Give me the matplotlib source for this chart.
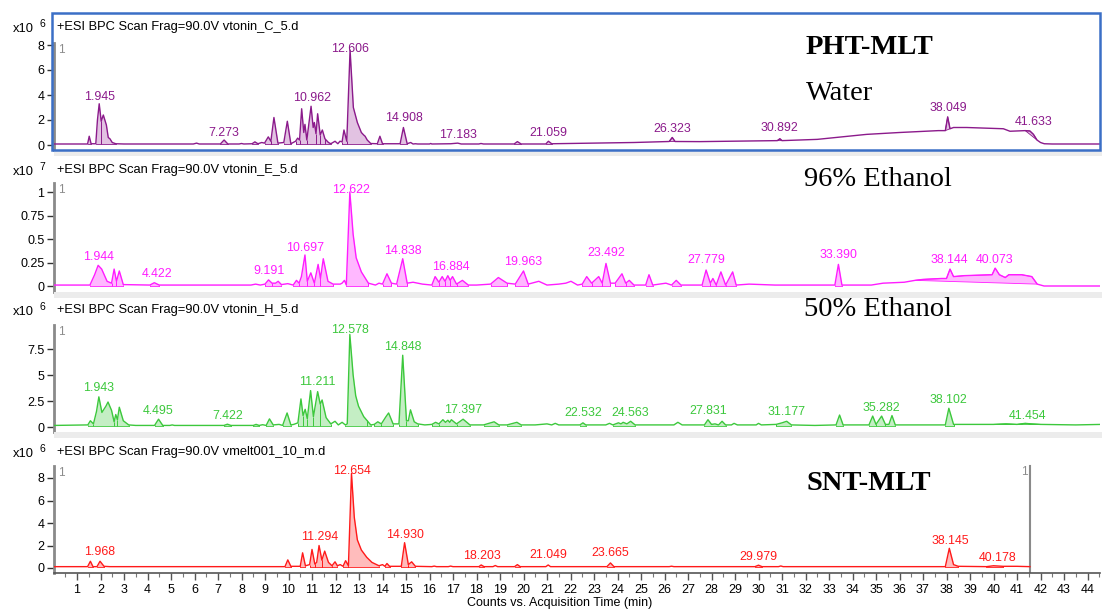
import numpy as np
import matplotlib
matplotlib.use("Agg")
import matplotlib.pyplot as plt
from matplotlib.patches import Rectangle

plt.rcParams['font.family'] = ['Liberation Sans', 'DejaVu Sans']

# === DATOS (tiempo en min, intensidad en unidades del eje) ===
water_pts = [(0.0, 0.08), (1.45, 0.08), (1.52, 0.7), (1.6, 0.1), (1.8, 0.1), (1.87, 2.0), (1.945, 3.3),
             (2.03, 1.9), (2.12, 2.4), (2.25, 1.6), (2.33, 0.6), (2.4, 0.5), (2.5, 0.2), (2.65, 0.1), (3.0, 0.08),
             (5.95, 0.08), (6.09, 0.15), (6.2, 0.08), (7.1, 0.08), (7.26, 0.4), (7.42, 0.08), (7.9, 0.08),
             (8.0, 0.12), (8.1, 0.08), (8.45, 0.1), (8.57, 0.25), (8.7, 0.1), (8.86, 0.2), (8.98, 0.15),
             (9.14, 0.65), (9.25, 0.3), (9.38, 2.2), (9.55, 0.15), (9.8, 0.2), (9.95, 1.9), (10.1, 0.1),
             (10.3, 0.3), (10.39, 0.55), (10.47, 0.4), (10.56, 2.9), (10.65, 1.0), (10.70, 1.65), (10.78, 0.4),
             (10.96, 3.1), (11.05, 1.4), (11.1, 1.8), (11.17, 0.9), (11.24, 2.5), (11.35, 0.8), (11.44, 1.2),
             (11.55, 0.5), (11.7, 0.2), (11.8, 0.1), (11.98, 0.3), (12.1, 0.1), (12.19, 0.3), (12.28, 0.25),
             (12.36, 1.2), (12.48, 0.3), (12.62, 7.6), (12.76, 3.0), (12.93, 1.8), (13.1, 1.0), (13.2, 0.8),
             (13.26, 0.7), (13.35, 0.4), (13.5, 0.12), (13.78, 0.1), (13.89, 0.7), (14.0, 0.1), (14.75, 0.1),
             (14.89, 1.4), (15.05, 0.1), (15.2, 0.2), (15.3, 0.08), (15.4, 0.1), (15.5, 0.08), (16.0, 0.08),
             (16.05, 0.12), (16.1, 0.08), (16.9, 0.1), (17.2, 0.15), (17.35, 0.08), (18.1, 0.08), (18.19, 0.12),
             (18.3, 0.08), (19.6, 0.08), (19.74, 0.27), (19.9, 0.08), (20.95, 0.08), (21.06, 0.3), (21.2, 0.1),
             (24.7, 0.2), (26.2, 0.28), (26.33, 0.6), (26.45, 0.28), (27.5, 0.27), (30.8, 0.35), (30.91, 0.5),
             (31.0, 0.35), (32.5, 0.45), (34.6, 0.85), (36.0, 1.0), (37.65, 1.15), (37.95, 1.15), (38.05, 2.25),
             (38.15, 1.3), (38.3, 1.4), (38.86, 1.4), (40.42, 1.3), (40.7, 1.1), (41.35, 1.15), (41.55, 1.12),
             (41.7, 0.85), (41.85, 0.4), (42.0, 0.2), (42.16, 0.1), (42.5, 0.08), (44.6, 0.08)]

etoh96_pts = [(0.0, 0.01), (1.55, 0.01), (1.75, 0.12), (1.9, 0.22), (2.05, 0.18), (2.28, 0.05), (2.47, 0.03),
              (2.58, 0.18), (2.68, 0.05), (2.8, 0.16), (2.97, 0.015), (4.1, 0.01), (4.29, 0.035), (4.5, 0.01),
              (8.4, 0.01), (8.6, 0.02), (8.8, 0.01), (9.0, 0.02), (9.15, 0.065), (9.3, 0.03), (9.45, 0.03),
              (9.56, 0.05), (9.7, 0.015), (9.97, 0.025), (10.2, 0.01), (10.34, 0.06), (10.45, 0.03), (10.55, 0.1),
              (10.70, 0.33), (10.8, 0.05), (10.95, 0.14), (11.1, 0.03), (11.26, 0.23), (11.36, 0.08), (11.48, 0.29),
              (11.68, 0.05), (11.9, 0.02), (12.2, 0.02), (12.28, 0.03), (12.38, 0.06), (12.46, 0.01), (12.61, 1.0),
              (12.75, 0.55), (12.88, 0.3), (13.1, 0.15), (13.4, 0.03), (13.7, 0.01), (13.85, 0.03), (14.0, 0.02),
              (14.19, 0.13), (14.38, 0.03), (14.6, 0.02), (14.86, 0.29), (15.05, 0.03), (15.3, 0.04), (15.5, 0.03),
              (15.7, 0.02), (16.1, 0.01), (16.24, 0.1), (16.4, 0.04), (16.54, 0.1), (16.66, 0.05), (16.78, 0.11),
              (16.88, 0.06), (16.98, 0.1), (17.15, 0.02), (17.4, 0.06), (17.65, 0.01), (18.0, 0.01), (18.6, 0.02),
              (18.93, 0.09), (19.3, 0.03), (19.65, 0.02), (20.0, 0.16), (20.2, 0.02), (20.65, 0.05), (21.0, 0.01),
              (21.5, 0.02), (21.8, 0.03), (22.02, 0.05), (22.3, 0.01), (22.5, 0.02), (22.69, 0.1), (22.9, 0.03),
              (23.2, 0.1), (23.35, 0.03), (23.51, 0.24), (23.7, 0.03), (23.9, 0.03), (24.19, 0.13), (24.35, 0.03),
              (24.5, 0.06), (24.7, 0.01), (25.2, 0.01), (25.34, 0.12), (25.5, 0.01), (26.06, 0.03), (26.3, 0.01),
              (26.5, 0.06), (26.7, 0.01), (27.6, 0.01), (27.77, 0.17), (27.95, 0.03), (28.06, 0.08), (28.2, 0.01),
              (28.4, 0.15), (28.6, 0.01), (28.9, 0.15), (29.05, 0.01), (29.6, 0.02), (30.7, 0.01), (33.25, 0.01),
              (33.4, 0.23), (33.55, 0.01), (34.8, 0.01), (35.3, 0.03), (36.2, 0.04), (36.66, 0.06), (37.0, 0.07),
              (37.8, 0.08), (38.0, 0.08), (38.15, 0.18), (38.3, 0.1), (38.75, 0.11), (39.94, 0.12), (40.07, 0.19),
              (40.25, 0.12), (40.5, 0.09), (40.65, 0.12), (41.2, 0.12), (41.63, 0.1), (41.86, 0.02), (42.15, 0.0),
              (44.6, 0.0)]

etoh50_pts = [(0.0, 0.15), (1.46, 0.2), (1.57, 0.6), (1.7, 0.3), (1.83, 1.5), (1.93, 2.9), (2.06, 1.4), (2.23, 2.0),
              (2.32, 2.4), (2.47, 1.6), (2.58, 0.5), (2.65, 1.2), (2.72, 0.7), (2.8, 1.9), (2.97, 0.6), (3.2, 0.2),
              (3.5, 0.15), (4.3, 0.15), (4.47, 0.75), (4.65, 0.15), (4.95, 0.15), (5.05, 0.2), (5.15, 0.15),
              (7.25, 0.15), (7.4, 0.27), (7.55, 0.15), (8.5, 0.15), (8.62, 0.25), (8.75, 0.15), (8.9, 0.22),
              (9.05, 0.15), (9.19, 0.78), (9.35, 0.2), (9.6, 0.25), (9.75, 0.15), (9.94, 1.35), (10.1, 0.2),
              (10.22, 0.25), (10.4, 0.4), (10.53, 2.7), (10.62, 1.1), (10.71, 1.7), (10.8, 0.8), (10.94, 3.5),
              (11.06, 1.0), (11.24, 3.4), (11.35, 2.2), (11.43, 2.6), (11.6, 0.9), (11.8, 0.3), (11.98, 0.55),
              (12.12, 0.2), (12.28, 0.45), (12.42, 0.2), (12.5, 0.3), (12.61, 8.9), (12.75, 5.0), (12.86, 3.0),
              (12.98, 2.0), (13.2, 1.0), (13.33, 0.65), (13.5, 0.2), (13.65, 0.25), (13.8, 0.5), (13.95, 0.3),
              (14.15, 1.0), (14.26, 1.35), (14.45, 0.3), (14.7, 0.3), (14.86, 6.9), (15.02, 0.6), (15.1, 0.6),
              (15.19, 1.65), (15.35, 0.5), (15.5, 0.3), (15.8, 0.2), (16.1, 0.25), (16.26, 0.45), (16.4, 0.3),
              (16.57, 0.7), (16.68, 0.45), (16.78, 0.65), (16.86, 0.45), (16.93, 0.7), (17.15, 0.3), (17.43, 0.75),
              (17.72, 0.2), (18.3, 0.2), (18.75, 0.5), (18.95, 0.2), (19.3, 0.2), (19.72, 0.45), (19.9, 0.2),
              (20.5, 0.2), (21.0, 0.3), (21.2, 0.2), (21.35, 0.35), (21.5, 0.2), (22.4, 0.2), (22.53, 0.4),
              (22.65, 0.2), (23.5, 0.2), (23.66, 0.35), (23.8, 0.2), (24.04, 0.4), (24.15, 0.3), (24.24, 0.45),
              (24.4, 0.3), (24.56, 0.55), (24.75, 0.2), (26.4, 0.2), (26.57, 0.45), (26.75, 0.2), (27.7, 0.2),
              (27.85, 0.7), (28.0, 0.25), (28.15, 0.3), (28.3, 0.2), (28.45, 0.55), (28.6, 0.2), (28.85, 0.2),
              (28.96, 0.35), (29.1, 0.2), (29.9, 0.2), (30.0, 0.35), (30.12, 0.2), (30.75, 0.25), (31.0, 0.4),
              (31.2, 0.55), (31.4, 0.2), (32.4, 0.15), (33.3, 0.2), (33.45, 1.15), (33.6, 0.2), (34.7, 0.2),
              (34.86, 1.05), (35.0, 0.25), (35.24, 1.05), (35.4, 0.25), (35.55, 0.25), (35.68, 1.1), (35.82, 0.2),
              (37.95, 0.2), (38.1, 1.8), (38.3, 0.25), (40.0, 0.25), (40.53, 0.3), (41.0, 0.25), (41.35, 0.35),
              (41.6, 0.3), (42.0, 0.25), (43.5, 0.2), (44.6, 0.25)]

snt_pts = [(0.0, 0.12), (1.45, 0.12), (1.57, 0.6), (1.68, 0.12), (1.85, 0.12), (1.98, 0.6), (2.15, 0.15), (2.4, 0.12),
           (9.85, 0.12), (9.97, 0.72), (10.1, 0.15), (10.5, 0.15), (10.6, 1.35), (10.72, 0.2), (10.9, 0.3),
           (11.0, 1.65), (11.12, 0.35), (11.2, 0.5), (11.3, 2.0), (11.42, 0.7), (11.54, 1.5), (11.7, 0.5),
           (11.85, 0.2), (11.98, 0.55), (12.08, 0.2), (12.2, 0.3), (12.32, 0.15), (12.43, 0.65), (12.55, 0.2),
           (12.68, 8.4), (12.8, 4.5), (12.93, 2.5), (13.1, 1.6), (13.33, 0.95), (13.55, 0.5), (13.85, 0.2),
           (14.0, 0.3), (14.1, 0.15), (14.19, 0.4), (14.3, 0.15), (14.8, 0.15), (14.94, 2.25), (15.1, 0.3),
           (15.24, 0.55), (15.4, 0.15), (16.1, 0.12), (16.2, 0.17), (16.3, 0.12), (16.8, 0.12), (16.9, 0.17),
           (17.0, 0.12), (18.1, 0.12), (18.2, 0.27), (18.32, 0.12), (18.7, 0.12), (18.8, 0.22), (18.9, 0.12),
           (19.62, 0.12), (19.74, 0.3), (19.86, 0.12), (20.95, 0.12), (21.05, 0.27), (21.15, 0.12), (23.55, 0.12),
           (23.7, 0.45), (23.85, 0.12), (26.2, 0.12), (26.3, 0.16), (26.4, 0.12), (29.85, 0.12), (30.0, 0.25),
           (30.15, 0.12), (30.85, 0.12), (30.95, 0.18), (31.05, 0.12), (37.95, 0.12), (38.12, 1.75), (38.3, 0.3),
           (38.5, 0.15), (39.7, 0.12), (40.0, 0.2), (40.4, 0.15), (41.0, 0.15), (41.55, 0.12)]

# etiquetas de picos: (tiempo, altura del texto, texto)
water_labels = [(1.94, 3.86, "1.945"), (7.23, 1.0, "7.273"), (10.99, 3.73, "10.962"), (12.62, 7.65, "12.606"),
                (14.92, 2.13, "14.908"), (17.2, 0.8, "17.183"), (21.06, 1.0, "21.059"), (26.33, 1.25, "26.323"),
                (30.91, 1.33, "30.892"), (38.08, 2.93, "38.049"), (41.7, 1.87, "41.633")]
etoh96_labels = [(1.93, 0.31, "1.944"), (4.41, 0.124, "4.422"), (9.19, 0.163, "9.191"), (10.71, 0.40, "10.697"),
                 (12.65, 1.02, "12.622"), (14.86, 0.376, "14.838"), (16.91, 0.2, "16.884"), (20.0, 0.26, "19.963"),
                 (23.51, 0.35, "23.492"), (27.77, 0.28, "27.779"), (33.4, 0.33, "33.390"), (38.12, 0.277, "38.144"),
                 (40.06, 0.277, "40.073")]
etoh50_labels = [(1.93, 3.78, "1.943"), (4.47, 1.54, "4.495"), (7.43, 1.09, "7.422"), (11.21, 4.3, "11.211"),
                 (12.61, 9.33, "12.578"), (14.86, 7.72, "14.848"), (17.43, 1.63, "17.397"), (22.55, 1.32, "22.532"),
                 (24.56, 1.32, "24.563"), (27.85, 1.54, "27.831"), (31.2, 1.47, "31.177"), (35.24, 1.86, "35.282"),
                 (38.1, 2.6, "38.102"), (41.45, 1.09, "41.454")]
snt_labels = [(1.95, 1.39, "1.968"), (11.31, 2.78, "11.294"), (12.68, 8.62, "12.654"), (14.97, 2.93, "14.930"),
              (18.22, 1.1, "18.203"), (21.04, 1.15, "21.049"), (23.7, 1.3, "23.665"), (30.01, 1.0, "29.979"),
              (38.15, 2.4, "38.145"), (40.17, 0.92, "40.178")]

# zonas integradas: (inicio, fin, cortes verticales)
water_fills = [(1.45, 1.6, []), (1.8, 2.65, [2.03]), (7.1, 7.42, []), (8.45, 8.7, []), (8.98, 9.25, []),
               (9.25, 9.55, []), (9.8, 10.1, []), (10.3, 11.8, [10.47, 10.78, 11.17, 11.35, 11.55]),
               (12.28, 13.5, [12.48]), (13.78, 14.0, []), (14.75, 15.05, []), (19.6, 19.9, []), (20.95, 21.2, [])]
water_closed = [(26.2, 26.45), (30.8, 31.0), (37.95, 38.15), (41.35, 41.85)]
etoh96_fills = [(1.55, 2.97, [2.47, 2.68]), (4.1, 4.5, []), (9.0, 9.7, [9.3]), (10.2, 11.9, [10.45, 10.8, 11.1, 11.36]),
                (12.46, 13.4, []), (14.0, 14.38, []), (14.6, 15.05, []), (16.1, 17.15, [16.4, 16.66, 16.88]),
                (17.15, 17.65, []), (18.6, 19.3, []), (19.65, 20.2, []), (22.5, 22.9, []), (22.9, 23.35, []),
                (23.35, 23.7, []), (23.9, 24.35, []), (24.35, 24.7, []), (25.2, 25.5, []), (26.3, 26.7, []),
                (27.6, 28.2, [27.95]), (28.2, 28.6, []), (28.6, 29.05, []), (33.25, 33.55, [])]
etoh96_closed = [(36.66, 41.86)]
etoh50_fills = [(1.46, 3.2, [1.7, 2.58, 2.72]), (4.3, 4.65, []), (7.25, 7.55, []), (8.5, 8.75, []), (9.05, 9.35, []),
                (9.75, 10.1, []), (10.4, 11.8, [10.62, 10.8, 11.06, 11.35]), (12.42, 13.5, [13.33]),
                (13.65, 13.95, []), (13.95, 14.45, []), (14.7, 15.5, [15.02]), (16.1, 17.72, [16.4, 17.15]),
                (18.3, 18.95, []), (19.3, 19.9, []), (22.4, 22.65, []), (23.8, 24.75, []), (27.7, 28.6, []),
                (30.75, 31.4, []), (33.3, 33.6, []), (34.7, 35.82, [35.0, 35.4]), (37.95, 38.3, [])]
etoh50_closed = [(40.0, 42.0)]
snt_fills = [(1.45, 1.68, []), (1.85, 2.15, []), (9.85, 10.1, []), (10.5, 10.72, []), (10.9, 11.12, []),
             (11.12, 11.42, []), (11.42, 11.85, []), (11.85, 12.08, []), (12.32, 12.55, []), (12.55, 13.85, []),
             (14.1, 14.3, []), (14.8, 15.1, []), (15.1, 15.4, []), (18.1, 18.32, []), (19.62, 19.86, []),
             (23.55, 23.85, []), (29.85, 30.15, []), (37.95, 38.5, []), (39.7, 40.4, [])]
snt_closed = []

headers = ["+ESI BPC Scan Frag=90.0V vtonin_C_5.d", "+ESI BPC Scan Frag=90.0V vtonin_E_5.d",
           "+ESI BPC Scan Frag=90.0V vtonin_H_5.d", "+ESI BPC Scan Frag=90.0V vmelt001_10_m.d"]
exponents = ["6", "7", "6", "6"]
yticks = [[0, 2, 4, 6, 8], [0, 0.25, 0.5, 0.75, 1], [0, 2.5, 5, 7.5], [0, 2, 4, 6, 8]]
ytick_labels = [["0", "2", "4", "6", "8"], ["0", "0.25", "0.5", "0.75", "1"], ["0", "2.5", "5", "7.5"],
                ["0", "2", "4", "6", "8"]]
xticks = list(range(1, 45))

# === ESTILO / POSICIONES (pixeles) ===
W, H = 1102, 609
line_colors = ['#8b1a8b', '#ff1cff', '#3cc83c', '#ff1a1a']
fill_colors = ['#e2c2e2', '#ffb8ff', '#c4eec4', '#ffbcbc']
bases = [0.08, 0.005, 0.13, 0.11]
# top, bottom, pixel del cero, pixeles por unidad, inicio del eje y
boxes = [(14, 150, 145, 12.5, 43), (156, 292, 286, 94.0, 183), (298, 432, 427, 10.4, 325),
         (438, 573, 568, 11.25, 466)]
header_y = [27, 170, 310, 452]
x_left, x_right = 54, 1100
t0_px, px_per_min = 53.5, 23.5

pts_all = [water_pts, etoh96_pts, etoh50_pts, snt_pts]
labels_all = [water_labels, etoh96_labels, etoh50_labels, snt_labels]
fills_all = [water_fills, etoh96_fills, etoh50_fills, snt_fills]
closed_all = [water_closed, etoh96_closed, etoh50_closed, snt_closed]

fig = plt.figure(figsize=(W / 100, H / 100), dpi=100)
fig.patch.set_facecolor('white')

# bandas grises entre paneles
for ytop in [150, 292, 432]:
    fig.patches.append(Rectangle((x_left / W, 1 - (ytop + 6) / H), (W - x_left) / W, 6 / H,
                                 transform=fig.transFigure, facecolor='#ececec', edgecolor='none', zorder=0))

xlim = ((x_left - t0_px) / px_per_min, (x_right - t0_px) / px_per_min)

for i in range(4):
    top, bot, zero, ppu, spine_top = boxes[i]
    ax = fig.add_axes([x_left / W, 1 - bot / H, (x_right - x_left) / W, (bot - top) / H])
    ax.set_facecolor('none')
    ax.set_xlim(*xlim)
    ax.set_ylim((zero - bot) / ppu, (zero - top) / ppu)

    t = np.array([p[0] for p in pts_all[i]])
    y = np.array([p[1] for p in pts_all[i]])
    col = line_colors[i]
    fcol = fill_colors[i]
    b = bases[i]

    for a, e, drops in fills_all[i]:
        m = (t >= a - 1e-9) & (t <= e + 1e-9)
        ax.fill_between(t[m], b, y[m], color=fcol, lw=0, zorder=1)
        ax.vlines(drops + [a, e], b, np.interp(drops + [a, e], t, y), color=col, lw=0.7, zorder=2)
        ax.plot([a, e], [b, b], color=col, lw=0.6, zorder=2)
    for a, e in closed_all[i]:
        m = (t >= a - 1e-9) & (t <= e + 1e-9)
        ax.fill(t[m], y[m], facecolor=fcol, edgecolor=col, lw=0.6, zorder=1)

    ax.plot(t, y, color=col, lw=1.0, zorder=3)

    for lt, lv, txt in labels_all[i]:
        ax.text(lt, lv, txt, ha='center', va='center', fontsize=8.9, color=col, zorder=4)

    # ejes
    for s in ['top', 'right', 'bottom']:
        ax.spines[s].set_visible(False)
    ax.spines['left'].set_color('#8a8a8a')
    ax.spines['left'].set_linewidth(2.0)
    ax.spines['left'].set_bounds((zero - bot) / ppu, (zero - spine_top) / ppu)
    ax.set_yticks(yticks[i], ytick_labels[i])
    ax.tick_params(axis='y', direction='out', length=5, width=1, color='#333333', labelsize=9, pad=2)

    fig.text(57 / W, 1 - header_y[i] / H, headers[i], fontsize=9.3, va='center', ha='left')
    fig.text(13 / W, 1 - (header_y[i] + 2) / H, "x10", fontsize=9.3, va='center', ha='left')
    fig.text(39 / W, 1 - (header_y[i] - 3) / H, exponents[i], fontsize=7.5, va='center', ha='left')
    fig.text(58 / W, 1 - (spine_top + 7) / H, "1", fontsize=8.5, color='#8c8c8c', va='center', ha='left')

    if i < 3:
        ax.set_xticks([])
    else:
        ax.spines['bottom'].set_visible(True)
        ax.spines['bottom'].set_color('#555555')
        ax.spines['bottom'].set_linewidth(1.2)
        ax.set_xticks(xticks, [str(v) for v in xticks])
        ax.set_xticks(np.arange(0.5, 44.6, 1.0), minor=True)
        ax.tick_params(axis='x', which='major', direction='out', length=5, width=1, color='#555555',
                       labelsize=9, pad=3)
        ax.tick_params(axis='x', which='minor', direction='out', length=3, width=0.8, color='#777777')
        ax.axvline(snt_pts[-1][0], ymin=0, ymax=(bot - spine_top) / (bot - top), color='#8a8a8a', lw=1.5)
        fig.text(1021 / W, 1 - 472 / H, "1", fontsize=8.5, color='#8c8c8c', va='center', ha='left')

# recuadro azul del primer panel
fig.patches.append(Rectangle((x_left / W - 0.0015, 1 - 150 / H), (x_right - x_left) / W + 0.0015, (150 - 13) / H,
                             transform=fig.transFigure, facecolor='none', edgecolor='#3b6fc6', lw=1.8, zorder=5))

# rótulos de muestra
serif = ['Liberation Serif', 'DejaVu Serif']
fig.text(806 / W, 1 - 48 / H, "PHT-MLT", fontsize=20.5, fontweight='bold', family=serif, va='center')
fig.text(806 / W, 1 - 93 / H, "Water", fontsize=20.5, family=serif, va='center')
fig.text(804 / W, 1 - 179 / H, "96% Ethanol", fontsize=20.5, family=serif, va='center')
fig.text(804 / W, 1 - 310 / H, "50% Ethanol", fontsize=20.5, family=serif, va='center')
fig.text(806 / W, 1 - 483 / H, "SNT-MLT", fontsize=20.5, fontweight='bold', family=serif, va='center')

fig.text(560 / W, 1 - 603 / H, "Counts vs. Acquisition Time (min)", fontsize=9, ha='center', va='center')

fig.savefig("out.png", dpi=100)
